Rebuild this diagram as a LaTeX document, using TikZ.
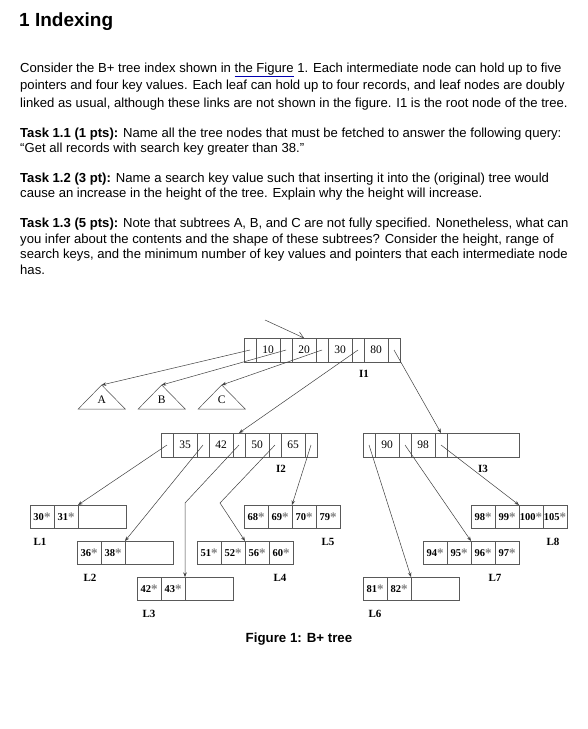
\documentclass[tikz,border=0pt]{standalone}
\usepackage{fontspec}
\setmainfont{Liberation Serif}
\setsansfont{Liberation Sans}
\usetikzlibrary{positioning,arrows.meta}

\newcommand{\rec}[1]{\textbf{#1\textcolor{black!50}{\fontsize{13}{13}\selectfont\raisebox{-0.5pt}{*}}}}
\newcommand{\docref}[1]{\textcolor{blue!70!black}{\underline{\textcolor{black}{#1}}}}

\begin{document}
\begin{tikzpicture}[
    x=1pt, y=-1pt,
    ptrcell/.style={rectangle, draw=black!65, minimum width=12pt, minimum height=24pt, inner sep=0pt, outer sep=0pt},
    keycell/.style={ptrcell, minimum width=24pt, font=\fontsize{11.5}{11.5}\selectfont},
    innode/.style={rectangle, draw=black!65, minimum width=156pt, minimum height=24pt, inner sep=0pt, outer sep=0pt, anchor=north west},
    leaf/.style={rectangle, draw=black!65, minimum width=96pt, minimum height=23.5pt, inner sep=0pt, outer sep=0pt, anchor=north west},
    reccell/.style={rectangle, draw=black!65, minimum width=24pt, minimum height=23.5pt, inner sep=0pt, outer sep=0pt, font=\fontsize{10.5}{10.5}\selectfont},
    nodetag/.style={font=\bfseries\fontsize{11}{11}\selectfont, inner sep=0pt},
    arr/.style={-{Stealth[length=4.5pt, width=3.5pt]}, black!75, line width=0.5pt},
    rootarr/.style={-{Straight Barb[length=6pt, width=7pt]}, black!75, line width=0.5pt},
    para/.style={font=\sffamily\fontsize{13.1}{15.5}\selectfont, align=left, anchor=base west, inner sep=0pt},
]
\useasboundingbox[fill=white] (0,0) rectangle (588,729);

% text part (base = last line)
\node[font=\sffamily\bfseries\fontsize{19}{19}\selectfont, anchor=base west, inner sep=0pt] (title) at (19,26) {1 Indexing};
\node[para, font=\sffamily\fontsize{13.1}{17.5}\selectfont] (intro) at (20,107.3) {Consider the B+ tree index shown in \docref{the Figure} 1. Each intermediate node can hold up to five\\pointers and four key values. Each leaf can hold up to four records, and leaf nodes are doubly\\linked as usual, although these links are not shown in the figure. I1 is the root node of the tree.};
\node[para] (task1) at (20,152.7) {\textbf{Task 1.1 (1 pts):} Name all the tree nodes that must be fetched to answer the following query:\\“Get all records with search key greater than 38.”};
\node[para] (task2) at (20,197.7) {\textbf{Task 1.2 (3 pt):} Name a search key value such that inserting it into the (original) tree would\\cause an increase in the height of the tree. Explain why the height will increase.};
\node[para] (task3) at (20,274) {\textbf{Task 1.3 (5 pts):} Note that subtrees A, B, and C are not fully specified. Nonetheless, what can\\you infer about the contents and the shape of these subtrees? Consider the height, range of\\search keys, and the minimum number of key values and pointers that each intermediate node\\has.};

% inner nodes
\foreach \nm/\lx/\ly/\keys in {I1/244/338/{10,20,30,80}, I2/161/433/{35,42,50,65}, I3/363/433/{90,98}} {
  \node[innode] (\nm) at (\lx,\ly) {};
  \node[ptrcell] (\nm p0) at ({\lx+6},{\ly+12}) {};
  \foreach \k [count=\i] in \keys {
    \node[keycell] (\nm k\i) at ({\lx+36*\i-12},{\ly+12}) {\k};
    \node[ptrcell] (\nm p\i) at ({\lx+36*\i+6},{\ly+12}) {};
  }
  \node[nodetag] (\nm-tag) at ({\lx+120},{\ly+35.5}) {\nm};
}

% subtrees
\foreach \nm/\ax in {A/101.7, B/161.7, C/221.7} {
  \coordinate (\nm-top) at (\ax,385);
  \draw[black!70, line width=0.5pt] (\nm-top) -- ++(-23.5,24) -- ++(47,0) -- cycle;
  \node[font=\fontsize{11.5}{11.5}\selectfont, inner sep=0pt] (\nm) at (\ax,400) {\nm};
}

% leaves
\foreach \nm/\lx/\ly/\tx/\recs in {
    L1/30/505/10/{30,31},
    L2/77/541/13/{36,38},
    L3/137/577/12/{42,43},
    L4/197/541/83/{51,52,56,60},
    L5/244/505/84/{68,69,70,79},
    L6/363/577/12/{81,82},
    L7/423/541/72/{94,95,96,97},
    L8/471/505/82/{98,99,100,105}} {
  \node[leaf] (\nm) at (\lx,\ly) {};
  \foreach \r [count=\i] in \recs
    \node[reccell] (\nm r\i) at ({\lx+24*\i-12},{\ly+11.75}) {\rec{\r}};
  \node[nodetag] (\nm-tag) at ({\lx+\tx},{\ly+36.5}) {\nm};
}

\coordinate (root-in) at (265,320);
\coordinate (bend3) at (185,503);
\coordinate (bend4) at (220,503);

\draw[rootarr] (root-in) -- (I1k2.north);
\draw[arr] (I1p0.center) -- (A-top);
\draw[arr] (I1p1.center) -- (B-top);
\draw[arr] (I1p2.center) -- (C-top);
\draw[arr] (I1p3.center) -- (I2p2.north);
\draw[arr] (I1p4.center) -- (I3p2.north);
\draw[arr] (I2p0.center) -- (L1r2.north east);
\draw[arr] (I2p1.center) -- (L2r2.north east);
\draw[arr] (I2p2.center) -- (bend3) -- (L3r2.north east);
\draw[arr] (I2p3.center) -- (bend4) -- (L4r2.north east);
\draw[arr] (I2p4.center) -- (L5r2.north east);
\draw[arr] (I3p0.center) -- (L6r2.north east);
\draw[arr] (I3p1.center) -- (L7r2.north east);
\draw[arr] (I3p2.center) -- (L8r2.north east);

\node[font=\sffamily\bfseries\fontsize{13.3}{13.3}\selectfont, anchor=base, inner sep=0pt] (caption) at (299,642) {Figure 1: B+ tree};
\end{tikzpicture}
\end{document}
